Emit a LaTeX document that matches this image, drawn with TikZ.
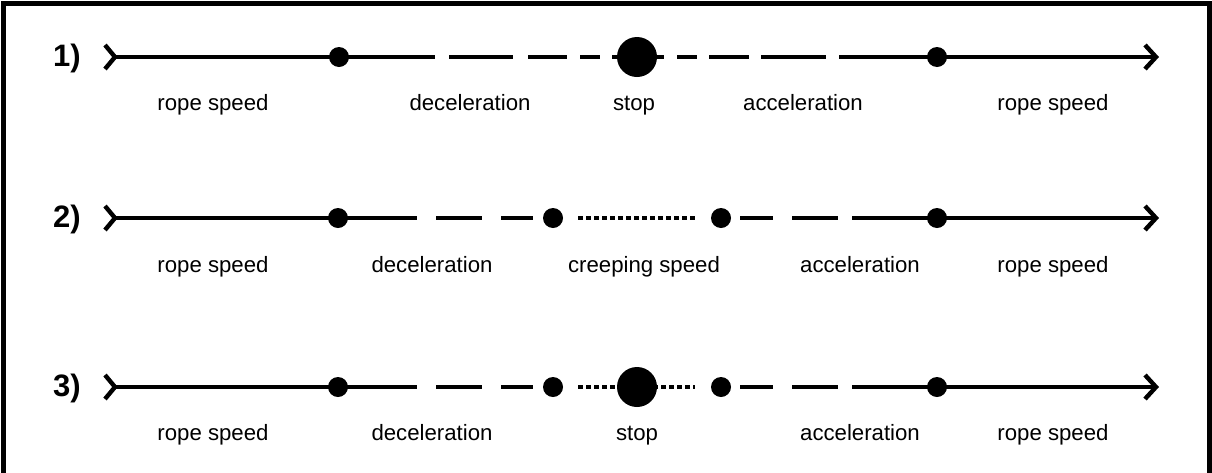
\documentclass[tikz,border=0pt]{standalone}
\usepackage{fontspec}
\setmainfont{Liberation Sans}
\begin{document}
\begin{tikzpicture}[x=1pt,y=-1pt,
  ln/.style={line width=4.6pt,line cap=butt},
  chev/.style={line width=4.4pt,line join=miter,line cap=butt},
  sdot/.style={circle,fill=black,inner sep=0pt,minimum size=20pt},
  bdot/.style={circle,fill=black,inner sep=0pt,minimum size=40pt},
  dots/.style={line width=4.4pt,line cap=butt,dash pattern=on 4.5pt off 3.5pt},
  lab/.style={anchor=base,inner sep=0pt,font=\fontsize{22.2}{26}\selectfont},
  num/.style={anchor=base,inner sep=0pt,font=\fontsize{31}{36}\selectfont\bfseries}]
\useasboundingbox (0,0) rectangle (1212,472);
\clip (0,0) rectangle (1212,472);
\draw[line width=4.5pt] (3.7,3.7) rectangle (1209.5,500);

% ---------- row 1 ----------
\node[num] (n1) at (67,66) {1)};
\coordinate (a1) at (115,57);
\coordinate (e1) at (1156,57);
\node[sdot] (d11) at (339,57) {};
\node[bdot] (s1) at (637,57) {};
\node[sdot] (d12) at (937,57) {};
\draw[chev] (105,45) -- (a1) -- (105,69);
\draw[ln] (a1) -- (d11.center);
\draw[ln,dash pattern=on 96pt off 14pt on 64pt off 15pt on 39pt off 13pt on 20pt off 12pt on 200pt] (d11.center) -- (s1.center);
\draw[ln,dash pattern=on 27pt off 13pt on 20pt off 12pt on 40pt off 12pt on 65pt off 13pt on 200pt] (s1.center) -- (d12.center);
\draw[ln] (d12.center) -- (e1);
\draw[chev] (1145,45) -- (e1) -- (1145,69);
\node[lab] (t11) at (213,110) {rope speed};
\node[lab] (t12) at (470,110) {deceleration};
\node[lab] (t13) at (634,110) {stop};
\node[lab] (t14) at (803,110) {acceleration};
\node[lab] (t15) at (1053,110) {rope speed};

% ---------- row 2 ----------
\node[num] (n2) at (67,227) {2)};
\coordinate (a2) at (115,218);
\coordinate (e2) at (1156,218);
\node[sdot] (d21) at (338,218) {};
\node[sdot] (c21) at (553,218) {};
\node[sdot] (c22) at (721,218) {};
\node[sdot] (d22) at (937,218) {};
\draw[chev] (105,206) -- (a2) -- (105,230);
\draw[ln] (a2) -- (d21.center);
\draw[ln,shorten >=20pt,dash pattern=on 79pt off 19pt on 46pt off 19pt on 100pt] (d21.center) -- (c21.center);
\draw[dots,shorten <=25pt,shorten >=26pt] (c21.center) -- (c22.center);
\draw[ln,shorten <=19pt,dash pattern=on 33pt off 19pt on 46pt off 14pt on 200pt] (c22.center) -- (d22.center);
\draw[ln] (d22.center) -- (e2);
\draw[chev] (1145,206) -- (e2) -- (1145,230);
\node[lab] (t21) at (213,272) {rope speed};
\node[lab] (t22) at (432,272) {deceleration};
\node[lab] (t23) at (644,272) {creeping speed};
\node[lab] (t24) at (860,272) {acceleration};
\node[lab] (t25) at (1053,272) {rope speed};

% ---------- row 3 ----------
\node[num] (n3) at (67,396) {3)};
\coordinate (a3) at (115,387);
\coordinate (e3) at (1156,387);
\node[sdot] (d31) at (338,387) {};
\node[sdot] (c31) at (553,387) {};
\node[bdot] (s3) at (637,387) {};
\node[sdot] (c32) at (721,387) {};
\node[sdot] (d32) at (937,387) {};
\draw[chev] (105,375) -- (a3) -- (105,399);
\draw[ln] (a3) -- (d31.center);
\draw[ln,shorten >=20pt,dash pattern=on 79pt off 19pt on 46pt off 19pt on 100pt] (d31.center) -- (c31.center);
\draw[dots,shorten <=25pt] (c31.center) -- (s3.center);
\draw[dots,shorten >=26pt] (s3.center) -- (c32.center);
\draw[ln,shorten <=19pt,dash pattern=on 33pt off 19pt on 46pt off 14pt on 200pt] (c32.center) -- (d32.center);
\draw[ln] (d32.center) -- (e3);
\draw[chev] (1145,375) -- (e3) -- (1145,399);
\node[lab] (t31) at (213,440) {rope speed};
\node[lab] (t32) at (432,440) {deceleration};
\node[lab] (t33) at (637,440) {stop};
\node[lab] (t34) at (860,440) {acceleration};
\node[lab] (t35) at (1053,440) {rope speed};
\end{tikzpicture}
\end{document}
